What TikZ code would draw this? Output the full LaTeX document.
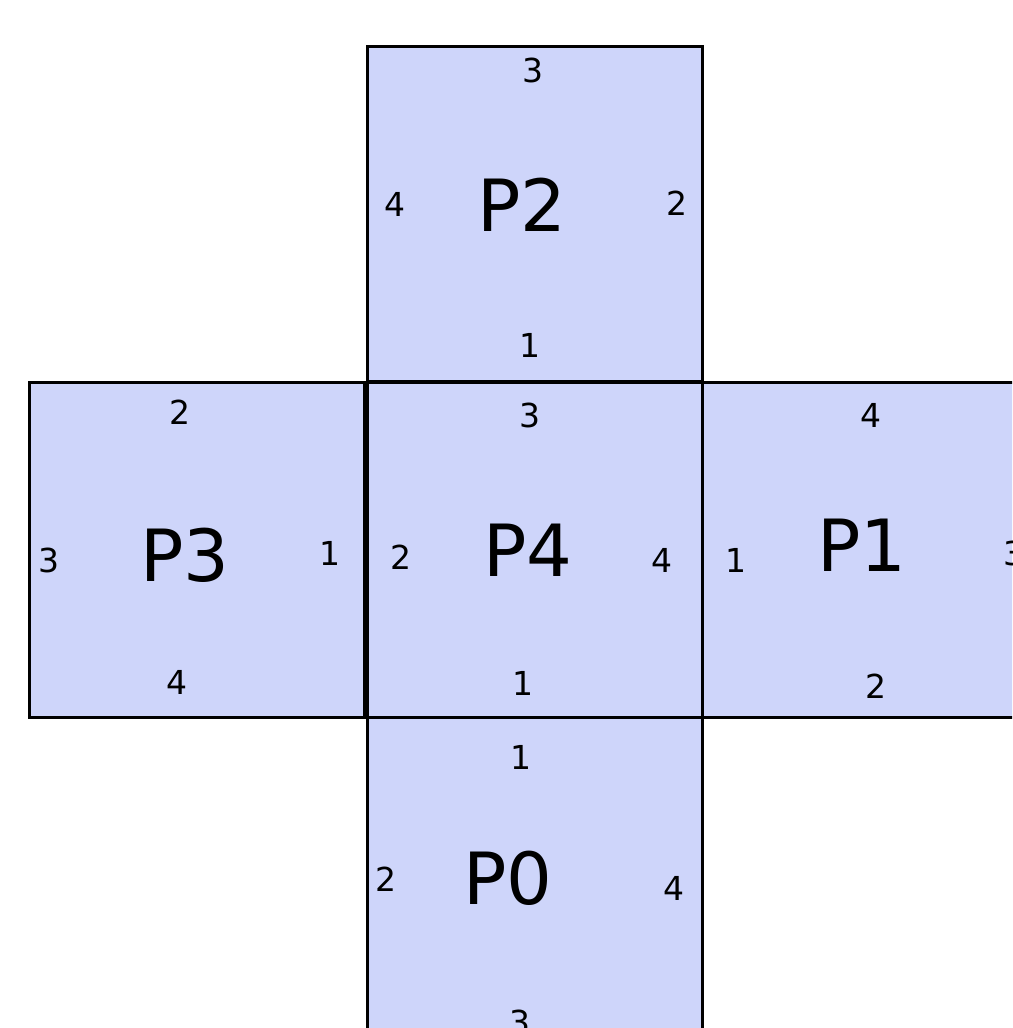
\documentclass[tikz,border=0pt]{standalone}
\usepackage{fontspec}
\setmainfont{DejaVu Sans}
\definecolor{facefill}{RGB}{206,213,250}
\begin{document}
\begin{tikzpicture}[x=1pt,y=-1pt,
  face/.style={draw=black,fill=facefill,line width=2.6pt,minimum width=335pt,minimum height=335pt,inner sep=0pt,anchor=north west},
  big/.style={font=\fontsize{72}{80}\selectfont,inner sep=0pt},
  edgelbl/.style={font=\fontsize{33}{38}\selectfont,inner sep=0pt}]
\clip (0,0) rectangle (1012,1028);
\fill[white] (0,0) rectangle (1012,1028);
% faces
\node[face] (p2) at (366,45) {};
\node[face] (p3) at (28,381) {};
\node[face] (p1) at (701,381) {};
\node[face] (p0) at (366,716) {};
\node[face] (p4) at (366,381) {};
% P2
\node[big] (t2) at (522,205) {P2};
\node[edgelbl] (p2a) at (533,70) {3};
\node[edgelbl] (p2b) at (395,204) {4};
\node[edgelbl] (p2c) at (677,203) {2};
\node[edgelbl] (p2d) at (530,345) {1};
% P3
\node[big] (t3) at (185,555) {P3};
\node[edgelbl] (p3a) at (180,412) {2};
\node[edgelbl] (p3b) at (49,560) {3};
\node[edgelbl] (p3c) at (330,553) {1};
\node[edgelbl] (p3d) at (177,682) {4};
% P4
\node[big] (t4) at (528,550) {P4};
\node[edgelbl] (p4a) at (530,415) {3};
\node[edgelbl] (p4b) at (401,557) {2};
\node[edgelbl] (p4c) at (662,560) {4};
\node[edgelbl] (p4d) at (523,683) {1};
% P1
\node[big] (t1) at (862,545) {P1};
\node[edgelbl] (p1a) at (871,415) {4};
\node[edgelbl] (p1b) at (736,560) {1};
\node[edgelbl] (p1c) at (1014,553) {3};
\node[edgelbl] (p1d) at (876,686) {2};
% P0
\node[big] (t0) at (508,878) {P0};
\node[edgelbl] (p0a) at (521,757) {1};
\node[edgelbl] (p0b) at (386,879) {2};
\node[edgelbl] (p0c) at (674,888) {4};
\node[edgelbl] (p0d) at (520,1022) {3};
\end{tikzpicture}
\end{document}
